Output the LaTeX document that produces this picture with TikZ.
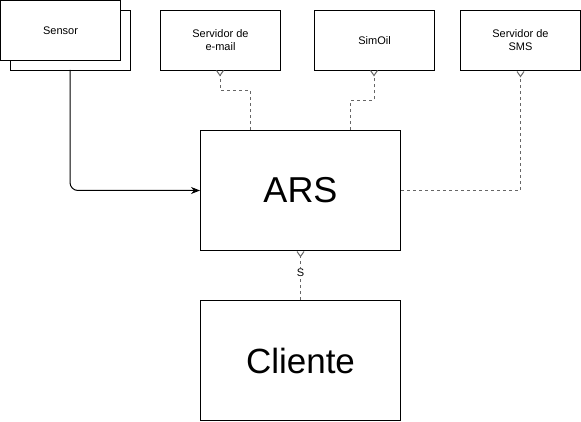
\documentclass[tikz,border=0pt]{standalone}
\usepackage{fontspec}
\setmainfont{Liberation Sans}
\usetikzlibrary{arrows.meta}
\begin{document}
\begin{tikzpicture}[x=1pt,y=-1pt,
  box/.style={draw=black,line width=1pt,fill=white,minimum width=120pt,minimum height=60pt,inner sep=0pt,font=\fontsize{11}{13}\selectfont,align=center,anchor=north west},
  bigbox/.style={draw=black,line width=1pt,fill=white,minimum width=200pt,minimum height=120pt,inner sep=0pt,anchor=north west},
  dline/.style={draw=black!60,line width=1pt,dash pattern=on 3pt off 3pt},
  crow/.style={dline,-{Straight Barb[reversed,length=5pt,width=7pt,line width=1pt]}},
  solidarrow/.style={draw=black,line width=1pt,rounded corners=8pt,-{Stealth[length=9pt,width=7pt]}}
]
\useasboundingbox (0,0) rectangle (581,422);
\node[box] (sensorback) at (10,10) {};
\node[box] (sensor) at (0,0) {Sensor};
\node[box] (email) at (160,10) {Servidor de\\e-mail};
\node[box] (simoil) at (314,10) {SimOil};
\node[box] (sms) at (460,10) {Servidor de\\SMS};
\node[bigbox,font=\fontsize{36}{40}\selectfont] (ars) at (200,130) {ARS};
\node[bigbox,font=\fontsize{35}{40}\selectfont] (cliente) at (200,300) {Cliente};

\coordinate (s1) at (70,70);
\draw[solidarrow] (s1) |- (ars.west);

\coordinate (e1) at (250,130);
\coordinate (e2) at (220,70);
\draw[crow] (e1) -- (250,90.5) -- (220,90.5) -- (e2);

\coordinate (o1) at (350.5,130);
\coordinate (o2) at (374,70);
\draw[crow] (o1) -- (350.5,100.5) -- (374,100.5) -- (o2);

\draw[crow] (ars.east) -| (sms.south-|520.5,0);

\draw[crow] (cliente.north) -- (ars.south) node[pos=0.55,fill=white,inner sep=1pt,font=\fontsize{11}{13}\selectfont] (slabel) {S};
\end{tikzpicture}
\end{document}
